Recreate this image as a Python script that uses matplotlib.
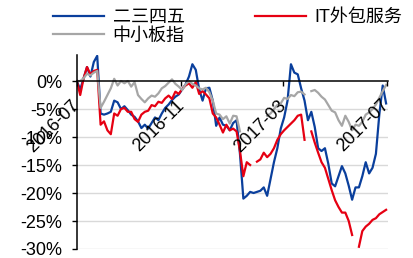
import numpy as np
import pandas as pd
import matplotlib
matplotlib.use("Agg")
import matplotlib.pyplot as plt
import matplotlib.dates as mdates
from matplotlib.ticker import FixedLocator, FuncFormatter

plt.rcParams['font.family'] = ['Liberation Sans', 'Noto Sans CJK SC']

nan = np.nan

# 4-day sampling, 2016-07-01 .. 2017-06-30 (cumulative return, %)
dates = pd.date_range("2016-07-01", periods=92, freq="4D")

ersansiwu = [0.0, -1.5, 0.5, 2.5, 0.8, 3.4, 4.5, -5.8, -6.0, -5.8,
             -5.5, -3.5, -3.8, -5.0, -4.5, -5.2, -6.0, -6.4, -7.2, -8.4,
             -7.8, -8.5, -7.5, -6.5, -7.0, -5.8, -4.8, -4.2, -3.4, -2.8,
             -2.4, -1.5, -0.6, 0.8, 3.0, 2.0, -1.5, -3.5, -1.3, -1.2,
             -3.5, -8.0, -6.5, -7.8, -8.0, -8.8, -7.5, -7.0, -13.0, -21.0,
             -20.5, -19.8, -20.0, -19.8, -19.6, -19.0, -20.5, -17.5, -14.5, -12.0,
             -8.5, -6.5, -3.5, 3.0, 1.5, 1.2, -1.3, -3.5, -7.0, -5.5,
             -8.2, -12.0, -12.5, -12.0, -14.8, -18.3, -18.8, -17.0, -15.2, -16.5,
             -18.7, -21.2, -19.0, -19.0, -17.0, -14.5, -16.5, -15.5, -13.0, -6.0,
             -0.8, -4.0]

it_outsourcing = [0.0, -2.5, 0.5, 2.5, 1.2, 1.8, 2.0, -7.8, -7.2, -8.8,
                  -9.5, -5.8, -6.2, -5.0, -4.8, -5.5, -5.5, -6.8, -7.3, -6.0,
                  -5.5, -5.3, -4.3, -4.5, -3.7, -3.9, -3.1, -2.6, -3.2, -1.9,
                  -2.3, -1.4, -0.8, -0.4, -1.2, -0.2, -2.3, -1.8, -2.4, -3.1,
                  -5.8, -6.5, -7.8, -9.2, -7.8, -8.8, -8.5, -9.0, -12.5, -17.0,
                  -14.5, -15.0, nan, -14.4, -14.0, -12.8, -13.6, -13.0, -12.0, -10.5,
                  -9.5, -8.8, -8.2, -7.6, -7.0, -6.2, -6.0, -10.5, nan, -9.0,
                  -11.0, -12.8, -14.5, -15.5, -17.5, -19.5, -21.3, -22.5, -23.5, -23.5,
                  -25.0, -27.5, nan, -29.6, -26.8, -26.0, -25.5, -24.8, -24.5, -23.8,
                  -23.4, -23.0]

sme_index = [0.0, 0.0, 0.5, 1.3, 1.0, 1.5, 1.8, -4.8, -3.7, -2.5,
             -1.3, 0.4, -0.8, 0.0, -0.4, 0.0, -1.0, -0.2, -2.5, -3.2,
             -3.8, -3.1, -2.6, -2.8, -2.2, -1.3, -0.9, -0.3, 0.3, -0.5,
             -1.0, -1.6, -0.6, 0.0, -0.5, -0.8, -1.3, -1.5, -1.2, -2.0,
             -3.5, -5.8, -6.0, -6.8, -6.3, -7.6, -6.2, -6.3, -9.0, nan,
             nan, nan, nan, nan, nan, nan, -6.2, -5.8, -5.0, -4.3,
             -4.0, -3.0, -3.2, -2.5, -2.7, -2.0, -1.9, -2.4, nan, -1.8,
             -1.6, -2.1, -2.8, -3.3, -4.3, -5.3, -5.6, -7.0, -8.0, -6.2,
             -7.3, -8.8, -7.8, -8.0, -7.3, -6.0, -5.6, -5.0, -4.2, -3.0,
             -1.8, -0.7]

y_ticks = [0, -5, -10, -15, -20, -25, -30]

BLUE = "#0a3f9c"
RED = "#e60012"
GREY = "#a6a6a6"

fig = plt.figure(figsize=(4.13, 2.58), dpi=100)
ax = fig.add_axes([0.186, 0.0349, 0.753, 0.753])

lb, = ax.plot(dates, ersansiwu, color=BLUE, lw=1.6, label="二三四五", zorder=2)
lr, = ax.plot(dates, it_outsourcing, color=RED, lw=1.6, label="IT外包服务", zorder=2)
lg, = ax.plot(dates, sme_index, color=GREY, lw=1.6, label="中小板指", zorder=2)

ax.set_xlim(pd.Timestamp("2016-07-01"), pd.Timestamp("2017-07-02"))
ax.set_ylim(-30, 4.7)

# light horizontal gridlines kept under the series
for v in y_ticks[1:]:
    ax.axhline(v, color="#d9d9d9", lw=1, zorder=0.8)

# spines
for s in ("top", "right"):
    ax.spines[s].set_visible(False)
ax.spines["bottom"].set_position(("data", 0))
ax.spines["bottom"].set_color("black")
ax.spines["bottom"].set_linewidth(1.1)
ax.spines["left"].set_linewidth(1.1)

# tick labels drawn over the lines
ax.set_axisbelow(False)

# y axis
ax.yaxis.set_major_locator(FixedLocator(y_ticks))
ax.yaxis.set_major_formatter(FuncFormatter(lambda v, p: f"{int(round(v))}%"))
ax.tick_params(axis="y", direction="out", length=3.6, width=1, pad=7, labelsize=13)

# x axis
ax.xaxis.set_major_locator(mdates.MonthLocator(bymonth=[3, 7, 11]))
ax.xaxis.set_major_formatter(mdates.DateFormatter("%Y-%m"))
ax.tick_params(axis="x", direction="out", length=3.6, width=1, pad=12, labelsize=13)
plt.setp(ax.get_xticklabels(), rotation=45, ha="right", va="center",
         rotation_mode="anchor")

fig.legend(handles=[lb, lg, lr], loc="upper left",
           bbox_to_anchor=(53 / 413, 1 - 9 / 258), ncol=2, frameon=False,
           fontsize=13, handlelength=2.8, handletextpad=0.5,
           columnspacing=3.9, labelspacing=0.1, borderpad=0, borderaxespad=0)

fig.savefig("out.png", dpi=100)
